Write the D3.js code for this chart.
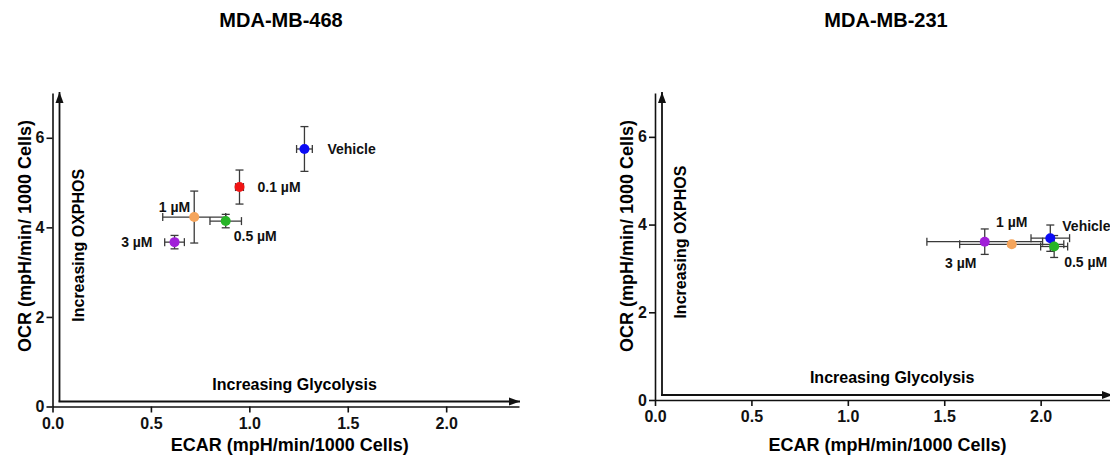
<!DOCTYPE html>
<html>
<head>
<meta charset="utf-8">
<script src="https://cdn.jsdelivr.net/npm/d3@7"></script>
<style>
  body { margin: 0; background: #fff; }
  svg { display: block; font-family: "Liberation Sans", Arial, sans-serif; font-weight: bold; }
</style>
</head>
<body>
<svg width="1110" height="456"></svg>
<script>
// ------------------------------------------------------
// DATA
// ------------------------------------------------------
var titles = ["MDA-MB-468", "MDA-MB-231"];

// MDA-MB-468
var labels468   = ["Vehicle", "0.1 µM", "0.5 µM", "1 µM", "3 µM"];
var ecar468     = [1.28, 0.95, 0.88, 0.72, 0.62];
var ecarErr468  = [0.04, 0.02, 0.08, 0.16, 0.05];
var ocr468      = [5.75, 4.90, 4.14, 4.23, 3.67];
var ocrErr468   = [0.50, 0.38, 0.15, 0.58, 0.15];

// MDA-MB-231
var labels231   = ["Vehicle", "0.5 µM", "1 µM", "3 µM"];
var ecar231     = [2.05, 2.07, 1.85, 1.71];
var ecarErr231  = [0.10, 0.07, 0.27, 0.30];
var ocr231      = [3.69, 3.50, 3.55, 3.61];
var ocrErr231   = [0.30, 0.25, 0.05, 0.29];

var xTicks = [0, 0.5, 1.0, 1.5, 2.0];
var yTicks = [0, 2, 4, 6];
var xMax = 2.37, yMax = 7;

var xTitle = "ECAR (mpH/min/1000 Cells)";
var yTitle = "OCR (mpH/min/ 1000 Cells)";
var xArrowText = "Increasing Glycolysis";
var yArrowText = "Increasing OXPHOS";

// ------------------------------------------------------
// STYLE
// ------------------------------------------------------
var colours = {
  "Vehicle": "#0b0bf5",
  "0.1 µM": "#f01414",
  "0.5 µM": "#27b427",
  "1 µM": "#f5a55c",
  "3 µM": "#a01fd8"
};

// label placement relative to each point [dx, dy, anchor]
var labelPos = {
  "MDA-MB-468": {
    "Vehicle": [23, 0, "start"],
    "0.1 µM": [18, 0, "start"],
    "0.5 µM": [8, 15, "start"],
    "1 µM": [-4, -10, "end"],
    "3 µM": [-22, 0, "end"]
  },
  "MDA-MB-231": {
    "Vehicle": [12, -12, "start"],
    "0.5 µM": [10, 16, "start"],
    "1 µM": [0, -22, "middle"],
    "3 µM": [-24, 21, "middle"]
  }
};

var svg = d3.select("svg");

var defs = svg.append("defs");
defs.append("marker")
  .attr("id", "arrow")
  .attr("markerUnits", "userSpaceOnUse")
  .attr("markerWidth", 12).attr("markerHeight", 10)
  .attr("viewBox", "0 0 12 10")
  .attr("refX", 11).attr("refY", 5)
  .attr("orient", "auto")
  .append("path")
  .attr("d", "M0,1 L11,5 L0,9 Z")
  .attr("fill", "#111");

// --------------------------------------------------
// one panel
// --------------------------------------------------
function setupChart(title, box, labels, ecar, ecarErr, ocr, ocrErr, titleX) {
  var x = d3.scaleLinear().domain([0, xMax]).range([box.left, box.right]);
  var y = d3.scaleLinear().domain([0, yMax]).range([box.bottom, box.top]);

  var g = svg.append("g");

  g.append("text")
    .attr("x", titleX).attr("y", 27)
    .attr("text-anchor", "middle")
    .attr("font-size", 20)
    .text(title);

  // axes
  var ax = g.append("g")
    .attr("transform", "translate(0," + box.bottom + ")")
    .call(d3.axisBottom(x).tickValues(xTicks).tickFormat(d3.format(".1f")).tickSize(6).tickSizeOuter(0).tickPadding(5));
  var ay = g.append("g")
    .attr("transform", "translate(" + box.left + ",0)")
    .call(d3.axisLeft(y).tickValues(yTicks).tickFormat(d3.format("d")).tickSize(6).tickSizeOuter(0).tickPadding(2));
  [ax, ay].forEach(function(a) {
    a.selectAll("path, line").attr("stroke", "#111").attr("stroke-width", 1.6);
    a.selectAll("text").attr("font-size", 16).attr("font-family", null).attr("fill", "#111");
    a.attr("font-family", null).attr("font-size", null);
  });

  // axis titles
  g.append("text")
    .attr("x", (x(0) + x(xMax)) / 2 + 4).attr("y", 451)
    .attr("text-anchor", "middle")
    .attr("font-size", 18)
    .text(xTitle);
  g.append("text")
    .attr("transform", "translate(" + (box.left - 22) + "," + 236 + ") rotate(-90)")
    .attr("text-anchor", "middle")
    .attr("font-size", 18)
    .text(yTitle);

  // inner arrows
  var ix = box.left + 7, iy = box.bottom - 5;
  g.append("path")
    .attr("d", "M" + ix + "," + iy + " V" + (y(yMax) - 1))
    .attr("stroke", "#111").attr("stroke-width", 1.8).attr("fill", "none")
    .attr("marker-end", "url(#arrow)");
  g.append("path")
    .attr("d", "M" + (ix - 1) + "," + iy + " H" + (x(xMax) + 1))
    .attr("stroke", "#111").attr("stroke-width", 1.8).attr("fill", "none")
    .attr("marker-end", "url(#arrow)");

  g.append("text")
    .attr("x", x(1.23)).attr("y", box.bottom - 17)
    .attr("text-anchor", "middle")
    .attr("font-size", 16)
    .text(xArrowText);
  g.append("text")
    .attr("transform", "translate(" + (box.left + 31) + "," + y(3.6) + ") rotate(-90)")
    .attr("text-anchor", "middle")
    .attr("font-size", 16)
    .text(yArrowText);

  var data = labels.map(function(l, i) {
    return { label: l, x: ecar[i], xe: ecarErr[i], y: ocr[i], ye: ocrErr[i] };
  });

  // error bars
  var cap = 4;
  var err = g.append("g").attr("stroke", "#3a3a3a").attr("stroke-width", 1.3);
  data.forEach(function(d) {
    var cx = x(d.x), cy = y(d.y);
    var x1 = x(d.x - d.xe), x2 = x(d.x + d.xe);
    var y1 = y(d.y - d.ye), y2 = y(d.y + d.ye);
    err.append("line").attr("x1", x1).attr("x2", x2).attr("y1", cy).attr("y2", cy);
    err.append("line").attr("x1", x1).attr("x2", x1).attr("y1", cy - cap).attr("y2", cy + cap);
    err.append("line").attr("x1", x2).attr("x2", x2).attr("y1", cy - cap).attr("y2", cy + cap);
    err.append("line").attr("x1", cx).attr("x2", cx).attr("y1", y1).attr("y2", y2);
    err.append("line").attr("x1", cx - cap).attr("x2", cx + cap).attr("y1", y1).attr("y2", y1);
    err.append("line").attr("x1", cx - cap).attr("x2", cx + cap).attr("y1", y2).attr("y2", y2);
  });

  // points
  g.append("g").selectAll("circle")
    .data(data)
    .enter().append("circle")
    .attr("cx", function(d) { return x(d.x); })
    .attr("cy", function(d) { return y(d.y); })
    .attr("r", 5)
    .attr("fill", function(d) { return colours[d.label]; });

  // point labels
  g.append("g").selectAll("text")
    .data(data)
    .enter().append("text")
    .attr("x", function(d) { return x(d.x) + labelPos[title][d.label][0]; })
    .attr("y", function(d) { return y(d.y) + labelPos[title][d.label][1]; })
    .attr("dy", "0.35em")
    .attr("text-anchor", function(d) { return labelPos[title][d.label][2]; })
    .attr("font-size", 14)
    .attr("fill", "#111")
    .text(function(d) { return d.label; });
}

setupChart(titles[0], {left: 52.5, right: 519, top: 93, bottom: 406.5},
  labels468, ecar468, ecarErr468, ocr468, ocrErr468, 281);
setupChart(titles[1], {left: 655, right: 1112, top: 93, bottom: 400},
  labels231, ecar231, ecarErr231, ocr231, ocrErr231, 886);
</script>
</body>
</html>
